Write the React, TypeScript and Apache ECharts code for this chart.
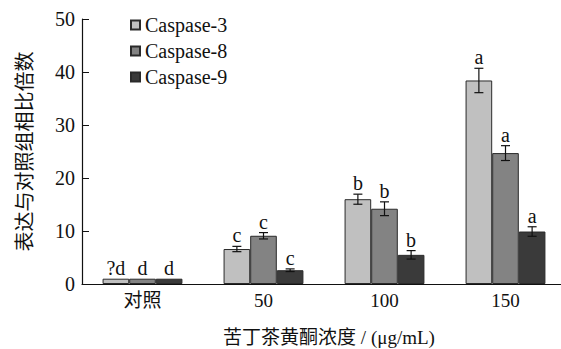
import React, { useEffect, useRef } from "react";
import * as echarts from "echarts";

const categories = ["对照", "50", "100", "150"];
const seriesNames = ["Caspase-3", "Caspase-8", "Caspase-9"];
const caspase3 = [1.0, 6.6, 16.0, 38.4];
const caspase8 = [1.0, 9.1, 14.2, 24.7];
const caspase9 = [1.0, 2.6, 5.5, 9.9];
const err3 = [0, 0.5, 0.95, 2.3];
const err8 = [0, 0.6, 1.3, 1.4];
const err9 = [0, 0.25, 0.8, 0.9];
const letters3 = ["?d", "c", "b", "a"];
const letters8 = ["d", "c", "b", "a"];
const letters9 = ["d", "c", "b", "a"];
const colors = ["#c0c0c0", "#838383", "#3a3a3a"];

const SERIF = "'Liberation Serif', 'Times New Roman', 'Noto Sans CJK SC', serif";
const CAT_GAP = 0.34;

export default function App() {
  const ref = useRef<HTMLDivElement>(null);
  useEffect(() => {
    if (!ref.current) return;
    const chart = echarts.init(ref.current, null, { renderer: "svg" });
    const values = [caspase3, caspase8, caspase9];
    const errs = [err3, err8, err9];
    const letters = [letters3, letters8, letters9];

    const barSeries = values.map((v, i) => ({
      name: seriesNames[i],
      type: "bar",
      data: v,
      barGap: "0%",
      barCategoryGap: CAT_GAP * 100 + "%",
      itemStyle: { color: colors[i], borderColor: "#2a2a2a", borderWidth: 1 },
    }));

    const errSeries = values.map((v, i) => ({
      type: "custom",
      silent: true,
      z: 5,
      data: v.map((val, k) => [k, val, errs[i][k]]),
      renderItem: (params: any, api: any) => {
        const k = api.value(0);
        const val = api.value(1);
        const e = api.value(2);
        const letter = letters[i][k];
        const band = api.size([1, 0])[0];
        const bw = (band * (1 - CAT_GAP)) / 3;
        const center = api.coord([k, val]);
        const x = center[0] + (i - 1) * bw;
        const top = api.coord([k, val + e])[1];
        const bot = api.coord([k, val - e])[1];
        const children: any[] = [];
        if (e > 0) {
          const st = { stroke: "#111", lineWidth: 1.2 };
          children.push({ type: "line", shape: { x1: x, y1: top, x2: x, y2: bot }, style: st });
          children.push({ type: "line", shape: { x1: x - 4.5, y1: top, x2: x + 4.5, y2: top }, style: st });
          children.push({ type: "line", shape: { x1: x - 4.5, y1: bot, x2: x + 4.5, y2: bot }, style: st });
        }
        children.push({
          type: "text",
          style: {
            text: letter,
            x: x,
            y: top - 1,
            align: "center",
            verticalAlign: "bottom",
            font: "20px " + SERIF,
            fill: "#111",
          },
        });
        return { type: "group", children };
      },
    }));

    chart.setOption({
      animation: false,
      textStyle: { fontFamily: SERIF },
      grid: { left: 82, right: -5, top: 19, bottom: 65, outerBoundsMode: "none", containLabel: false },
      legend: {
        data: seriesNames,
        orient: "vertical",
        left: 125,
        top: 10,
        icon: "rect",
        itemWidth: 9,
        itemHeight: 9,
        itemGap: 6,
        textStyle: { fontFamily: SERIF, fontSize: 20, color: "#111" },
      },
      xAxis: {
        type: "category",
        data: categories,
        axisLine: { lineStyle: { color: "#111", width: 1.2 } },
        axisTick: { inside: true, length: 7, lineStyle: { color: "#111" } },
        axisLabel: { color: "#111", fontSize: 19, fontFamily: SERIF, margin: 7 },
        name: "苦丁茶黄酮浓度 / (μg/mL)",
        nameLocation: "middle",
        nameGap: 44,
        nameTextStyle: { color: "#111", fontSize: 19, fontFamily: SERIF, padding: [0, 0, 0, 10] },
      },
      yAxis: {
        type: "value",
        min: 0,
        max: 50,
        interval: 10,
        splitLine: { show: false },
        axisLine: { show: true, lineStyle: { color: "#111", width: 1.2 } },
        axisTick: { show: true, inside: true, length: 7, lineStyle: { color: "#111" } },
        axisLabel: { color: "#111", fontSize: 20, fontFamily: SERIF, margin: 7 },
        name: "表达与对照组相比倍数",
        nameLocation: "middle",
        nameGap: 47,
        nameTextStyle: { color: "#111", fontSize: 20, fontFamily: SERIF },
      },
      series: [...barSeries, ...errSeries],
    });
    return () => chart.dispose();
  }, []);
  return <div ref={ref} style={{ width: 561, height: 349, position: "absolute", left: 0, top: 0 }} />;
}
